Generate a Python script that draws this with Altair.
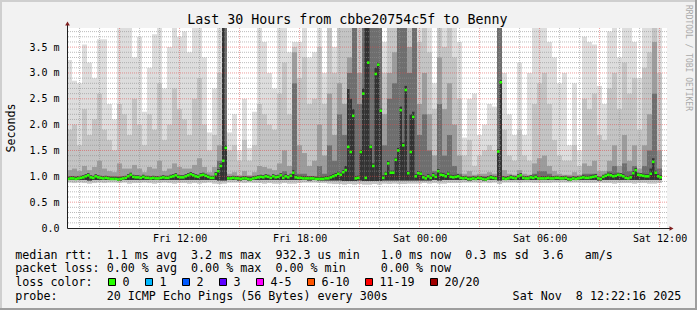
import altair as alt
import pandas as pd

# ---------------- data (15-minute bins) ----------------
# outermost smoke band top (max ping), in ms
smoke_max = [
    3.25, 2.85, 2.80, 3.55, 3.20, 2.90, 3.65, 3.65, 2.40, 2.10,
    3.87, 3.87, 3.87, 3.30, 3.70, 2.25, 3.10, 3.75, 3.87, 2.70,
    3.50, 3.87, 3.70, 3.80, 3.40, 3.87, 3.87, 3.30, 1.85, 2.70,
    3.87, 3.87, 1.85, 2.20, 1.50, 2.50, 1.55, 2.25, 3.87, 3.60,
    3.00, 2.70, 3.87, 3.87, 3.40, 3.60, 3.60, 3.87, 3.30, 3.40,
    3.87, 3.00, 3.87, 3.50, 3.87, 3.87, 3.87, 3.87, 3.87, 3.87,
    3.87, 3.87, 3.87, 3.60, 3.87, 3.87, 3.87, 3.87, 3.87, 3.87,
    3.87, 3.87, 3.87, 2.80, 3.87, 3.87, 3.87, 3.87, 3.60, 1.75,
    2.50, 2.60, 1.80, 2.00, 2.40, 2.35, 3.87, 3.00, 2.20, 1.80,
    3.20, 1.80, 3.00, 3.87, 3.87, 3.87, 3.60, 3.30, 2.80, 3.00,
    1.60, 2.80, 1.50, 3.70, 3.60, 3.55, 2.75, 2.40, 3.80, 3.87,
    3.30, 3.87, 3.87, 3.60, 2.90, 3.87, 3.87, 3.87, 3.87,
]
# second band top
smoke_p80 = [
    1.90, 2.00, 1.60, 2.30, 1.80, 2.10, 2.60, 1.90, 1.70, 1.50,
    2.40, 2.20, 1.80, 2.50, 2.00, 1.60, 2.20, 1.90, 2.80, 1.70,
    2.00, 2.70, 2.30, 2.10, 1.80, 2.50, 2.90, 2.00, 1.50, 1.80,
    3.00, 3.87, 1.50, 1.60, 1.30, 1.70, 1.30, 1.60, 2.40, 2.20,
    2.00, 1.90, 2.60, 3.20, 2.20, 3.50, 2.90, 3.30, 2.40, 2.50,
    3.50, 2.40, 3.87, 3.00, 3.87, 3.87, 3.87, 3.87, 3.87, 3.87,
    3.87, 3.87, 3.87, 3.00, 3.87, 3.87, 3.87, 3.87, 3.87, 3.87,
    3.60, 3.87, 3.40, 2.30, 3.87, 3.50, 3.87, 3.30, 2.50, 1.40,
    1.70, 1.20, 1.40, 1.50, 1.60, 1.50, 3.87, 1.90, 1.40, 1.30,
    1.90, 1.40, 1.30, 2.40, 2.80, 3.00, 2.40, 1.70, 1.40, 1.30,
    1.30, 1.60, 1.20, 2.50, 2.30, 2.60, 1.80, 1.70, 2.70, 3.00,
    2.30, 3.20, 2.60, 2.90, 1.90, 3.10, 3.40, 3.87, 3.00,
]
# third band top
smoke_p60 = [
    1.12, 1.15, 1.10, 1.20, 1.12, 1.18, 1.30, 1.15, 1.10, 1.08,
    1.25, 1.15, 1.15, 1.22, 1.15, 1.08, 1.18, 1.15, 1.30, 1.10,
    1.15, 1.25, 1.18, 1.15, 1.15, 1.22, 1.35, 1.18, 1.08, 1.18,
    1.60, 3.87, 1.05, 1.08, 1.02, 1.10, 1.02, 1.08, 1.20, 1.18,
    1.15, 1.12, 1.25, 1.50, 1.20, 3.40, 1.60, 1.45, 1.20, 1.30,
    2.00, 1.40, 2.60, 1.80, 2.80, 2.40, 3.30, 3.87, 3.00, 3.87,
    3.87, 3.87, 3.87, 2.20, 3.00, 3.40, 3.87, 3.87, 3.50, 3.87,
    2.40, 3.00, 2.20, 1.40, 3.30, 2.30, 2.80, 2.00, 1.40, 1.05,
    1.10, 1.03, 1.05, 1.05, 1.08, 1.05, 3.87, 1.12, 1.05, 1.03,
    1.12, 1.05, 1.03, 1.25, 1.35, 1.40, 1.20, 1.10, 1.05, 1.03,
    1.03, 1.08, 1.03, 1.25, 1.20, 1.30, 1.10, 1.10, 1.30, 1.60,
    1.20, 1.80, 1.30, 1.60, 1.15, 1.60, 2.20, 3.60, 1.50,
]
# fourth band top (dark grey, only rises in the congested hours)
smoke_p70 = [
    1.00, 1.00, 1.00, 1.00, 1.00, 1.00, 1.00, 1.00, 1.00, 1.00,
    1.00, 1.00, 1.00, 1.00, 1.00, 1.00, 1.00, 1.00, 1.00, 1.00,
    1.00, 1.00, 1.00, 1.00, 1.00, 1.00, 1.00, 1.00, 1.00, 1.00,
    1.30, 3.87, 1.00, 1.00, 1.00, 1.00, 1.00, 1.00, 1.00, 1.00,
    1.00, 1.00, 1.00, 1.10, 1.00, 2.80, 1.05, 1.05, 1.00, 1.00,
    1.20, 1.05, 1.60, 1.30, 2.20, 1.80, 3.00, 3.87, 2.40, 3.87,
    3.87, 3.87, 3.87, 1.60, 2.50, 2.80, 3.87, 3.87, 3.00, 3.87,
    1.80, 2.20, 1.50, 1.10, 2.40, 1.40, 1.80, 1.20, 1.05, 1.00,
    1.00, 1.00, 1.00, 1.00, 1.00, 1.00, 3.87, 1.00, 1.00, 1.00,
    1.00, 1.00, 1.00, 1.05, 1.10, 1.10, 1.05, 1.00, 1.00, 1.00,
    1.00, 1.00, 1.00, 1.05, 1.05, 1.05, 1.00, 1.00, 1.10, 1.20,
    1.05, 1.25, 1.10, 1.20, 1.05, 1.20, 1.50, 2.60, 1.15,
]
# innermost (darkest) band top, first and second half of each bin
smoke_dark_a = [
    0.99, 1.00, 1.00, 1.02, 1.06, 1.01, 1.02, 1.00, 1.00, 0.99,
    0.98, 1.00, 1.04, 1.03, 1.02, 1.03, 1.01, 1.01, 1.00, 1.02,
    1.01, 1.04, 1.03, 1.02, 1.06, 1.06, 1.03, 1.07, 1.03, 1.01,
    1.14, 3.87, 1.00, 1.01, 1.00, 1.00, 0.99, 1.00, 1.02, 1.02,
    1.03, 1.04, 1.03, 1.01, 1.02, 1.12, 1.01, 1.00, 1.00, 1.00,
    0.99, 0.99, 1.00, 1.04, 1.09, 1.12, 2.69, 2.30, 1.01, 2.70,
    3.87, 1.25, 3.20, 1.02, 1.30, 1.11, 1.55, 1.65, 1.10, 2.25,
    1.10, 1.02, 1.04, 1.06, 1.14, 1.06, 1.09, 1.02, 1.04, 1.00,
    0.99, 1.00, 1.01, 0.99, 1.00, 1.01, 1.52, 1.00, 1.00, 1.01,
    1.04, 1.01, 1.00, 1.01, 1.00, 1.00, 1.01, 1.00, 1.01, 1.00,
    0.99, 1.00, 1.00, 1.02, 1.01, 1.03, 1.00, 1.03, 1.07, 1.04,
    1.07, 1.04, 1.00, 1.10, 1.07, 1.05, 1.04, 1.35, 1.04,
]
smoke_dark_b = [
    1.00, 0.99, 1.01, 1.04, 1.02, 1.04, 1.01, 1.01, 0.99, 0.99,
    0.99, 1.01, 1.07, 1.02, 1.01, 1.01, 1.00, 1.00, 1.01, 1.01,
    1.03, 1.06, 1.02, 1.04, 1.08, 1.04, 1.06, 1.05, 1.01, 1.08,
    1.25, 1.60, 1.00, 1.00, 0.99, 1.00, 0.98, 1.01, 1.03, 1.04,
    1.01, 1.02, 1.06, 1.04, 1.05, 1.02, 1.01, 1.00, 1.00, 0.99,
    0.99, 1.00, 1.02, 1.06, 1.07, 1.20, 2.50, 1.00, 1.51, 3.87,
    1.61, 3.10, 2.31, 1.09, 1.11, 1.36, 2.35, 2.75, 2.20, 1.04,
    1.09, 1.00, 1.01, 1.03, 1.07, 1.04, 1.03, 1.03, 1.01, 1.01,
    0.99, 0.99, 1.00, 0.98, 1.02, 1.00, 2.86, 0.99, 1.02, 1.00,
    1.06, 1.00, 1.02, 1.03, 1.00, 1.00, 1.00, 1.01, 1.00, 1.01,
    0.98, 0.99, 1.01, 1.01, 1.02, 1.04, 0.99, 1.05, 1.06, 1.05,
    1.06, 1.01, 1.02, 1.16, 1.06, 1.04, 1.15, 1.11, 1.02,
]
# lowest ping (bottom of the light smoke)
smoke_min = [
    0.88, 0.87, 0.88, 0.87, 0.86, 0.87, 0.88, 0.87, 0.88, 0.88,
    0.87, 0.88, 0.86, 0.87, 0.87, 0.88, 0.87, 0.86, 0.87, 0.88,
    0.87, 0.86, 0.87, 0.87, 0.86, 0.87, 0.86, 0.87, 0.88, 0.86,
    0.85, 0.86, 0.88, 0.88, 0.88, 0.87, 0.88, 0.87, 0.87, 0.86,
    0.87, 0.86, 0.86, 0.87, 0.86, 0.86, 0.87, 0.88, 0.88, 0.88,
    0.87, 0.87, 0.86, 0.85, 0.85, 0.84, 0.85, 0.84, 0.85, 0.84,
    0.84, 0.85, 0.84, 0.86, 0.85, 0.86, 0.85, 0.85, 0.86, 0.86,
    0.86, 0.87, 0.86, 0.87, 0.86, 0.86, 0.87, 0.87, 0.87, 0.88,
    0.88, 0.88, 0.87, 0.88, 0.87, 0.88, 0.85, 0.88, 0.88, 0.88,
    0.87, 0.88, 0.88, 0.87, 0.87, 0.87, 0.87, 0.88, 0.88, 0.88,
    0.88, 0.88, 0.88, 0.87, 0.87, 0.87, 0.88, 0.87, 0.87, 0.86,
    0.87, 0.87, 0.87, 0.86, 0.87, 0.87, 0.86, 0.86, 0.87,
]
# bottom of the inner smoke bands
smoke_low = [
    0.93, 0.93, 0.93, 0.93, 0.92, 0.93, 0.93, 0.93, 0.93, 0.93,
    0.92, 0.93, 0.93, 0.93, 0.93, 0.93, 0.93, 0.93, 0.93, 0.93,
    0.93, 0.93, 0.93, 0.93, 0.93, 0.93, 0.93, 0.93, 0.93, 0.93,
    0.92, 0.92, 0.93, 0.93, 0.92, 0.93, 0.92, 0.93, 0.93, 0.93,
    0.93, 0.93, 0.93, 0.93, 0.93, 0.93, 0.93, 0.93, 0.92, 0.93,
    0.92, 0.92, 0.92, 0.92, 0.92, 0.91, 0.91, 0.91, 0.92, 0.91,
    0.91, 0.91, 0.91, 0.92, 0.92, 0.92, 0.92, 0.92, 0.92, 0.92,
    0.92, 0.92, 0.92, 0.93, 0.92, 0.93, 0.93, 0.93, 0.93, 0.93,
    0.92, 0.93, 0.93, 0.92, 0.93, 0.93, 0.92, 0.93, 0.93, 0.93,
    0.93, 0.93, 0.93, 0.93, 0.93, 0.93, 0.93, 0.93, 0.93, 0.93,
    0.92, 0.93, 0.93, 0.93, 0.93, 0.93, 0.92, 0.93, 0.93, 0.93,
    0.93, 0.93, 0.93, 0.93, 0.93, 0.93, 0.93, 0.93, 0.93,
]
# median rtt, first and second half of each bin
median_a = [
    0.95, 0.96, 0.96, 0.98, 1.02, 0.97, 0.98, 0.96, 0.96, 0.95,
    0.94, 0.96, 1.00, 0.99, 0.98, 0.99, 0.97, 0.97, 0.96, 0.98,
    0.97, 1.00, 0.99, 0.98, 1.02, 1.02, 0.99, 1.03, 0.99, 0.97,
    1.10, 1.30, 0.96, 0.97, 0.96, 0.96, 0.95, 0.96, 0.98, 0.98,
    0.99, 1.00, 0.99, 0.97, 0.98, 1.07, 0.97, 0.96, 0.96, 0.96,
    0.95, 0.95, 0.96, 1.00, 1.05, 1.08, 1.57, 2.17, 0.97, 2.60,
    3.20, 1.20, 3.16, 0.97, 1.25, 1.07, 1.50, 1.60, 1.06, 2.15,
    1.06, 0.98, 1.00, 1.02, 1.10, 1.02, 1.05, 0.98, 1.00, 0.96,
    0.95, 0.96, 0.97, 0.95, 0.96, 0.97, 1.48, 0.96, 0.96, 0.97,
    1.00, 0.97, 0.96, 0.97, 0.96, 0.96, 0.97, 0.96, 0.97, 0.96,
    0.95, 0.96, 0.96, 0.98, 0.97, 0.99, 0.96, 0.99, 1.03, 1.00,
    1.03, 1.00, 0.96, 1.06, 1.03, 1.01, 1.00, 1.28, 1.00,
]
median_b = [
    0.96, 0.95, 0.97, 1.00, 0.98, 1.00, 0.97, 0.97, 0.95, 0.95,
    0.95, 0.97, 1.03, 0.98, 0.97, 0.97, 0.96, 0.96, 0.97, 0.97,
    0.99, 1.02, 0.98, 1.00, 1.04, 1.00, 1.02, 1.01, 0.97, 1.04,
    1.20, 1.55, 0.96, 0.96, 0.95, 0.96, 0.94, 0.97, 0.99, 1.00,
    0.97, 0.98, 1.02, 1.00, 1.01, 0.98, 0.97, 0.96, 0.96, 0.95,
    0.95, 0.96, 0.98, 1.02, 1.03, 1.12, 1.47, 0.96, 1.47, 0.97,
    1.57, 2.98, 2.27, 1.05, 1.07, 1.32, 2.28, 2.67, 1.47, 1.00,
    1.05, 0.96, 0.97, 0.99, 1.03, 1.00, 0.99, 0.99, 0.97, 0.97,
    0.95, 0.95, 0.96, 0.94, 0.98, 0.96, 2.82, 0.95, 0.98, 0.96,
    1.02, 0.96, 0.98, 0.99, 0.96, 0.96, 0.96, 0.97, 0.96, 0.97,
    0.94, 0.95, 0.97, 0.97, 0.98, 1.00, 0.95, 1.01, 1.02, 1.01,
    1.02, 0.97, 0.98, 1.12, 1.02, 1.00, 1.05, 1.07, 0.98,
]

y_ticks = [0.0, 0.5, 1.0, 1.5, 2.0, 2.5, 3.0, 3.5]
x_tick_times = ["2025-11-07T12:00:00Z", "2025-11-07T18:00:00Z", "2025-11-08T00:00:00Z",
                "2025-11-08T06:00:00Z", "2025-11-08T12:00:00Z"]

title_text = "Last 30 Hours from cbbe20754c5f to Benny"
legend_rtt = [(0, "median rtt:"), (13, "1.1 ms avg"), (25, "3.2 ms max"), (37, "932.3 us min"),
              (52, "1.0 ms now"), (64, "0.3 ms sd"), (75, "3.6"), (81, "am/s")]
legend_loss = [(0, "packet loss:"), (13, "0.00 % avg"), (25, "0.00 % max"),
               (37, "0.00 % min"), (52, "0.00 % now")]
loss_labels = ["0", "1", "2", "3", "4-5", "6-10", "11-19", "20/20"]
loss_colors = ["#26ff00", "#00b8ff", "#0059ff", "#5e00ff", "#ff00ff", "#ff5500", "#ff0000", "#a10000"]
probe_text = "20 ICMP Echo Pings (56 Bytes) every 300s"
date_text = "Sat Nov \u00a08 12:22:16 2025"

# ---------------- tables ----------------
n = len(smoke_max)
for arr in (smoke_p80, smoke_p60, smoke_p70, smoke_dark_a, smoke_dark_b, smoke_min, smoke_low,
            median_a, median_b):
    assert len(arr) == n

ms = lambda s: int(pd.Timestamp(s).value // 10**6)
START = ms("2025-11-07T06:22:16Z")
STEP = 15 * 60 * 1000
HALF = STEP // 2
SPAN = 30 * 3600 * 1000
HOUR = 3600 * 1000

df = pd.DataFrame({
    "t0": [START + i * STEP for i in range(n)],
    "t1": [START + (i + 1) * STEP for i in range(n)],
    "mx": smoke_max, "p80": smoke_p80, "p60": smoke_p60, "p70": smoke_p70,
    "mn": smoke_min, "lo": smoke_low,
})
half = pd.DataFrame({
    "t0": [START + i * STEP for i in range(n)] + [START + i * STEP + HALF for i in range(n)],
    "t1": [START + i * STEP + HALF for i in range(n)] + [START + (i + 1) * STEP for i in range(n)],
    "lo": smoke_low + smoke_low,
    "dk": smoke_dark_a + smoke_dark_b,
})
med = pd.DataFrame({
    "t": [START + i * STEP + STEP // 4 for i in range(n)] + [START + i * STEP + 3 * STEP // 4 for i in range(n)],
    "v": median_a + median_b,
})

first_hour = ms("2025-11-07T07:00:00Z")
hours = [(first_hour + k * HOUR, (7 + k) % 24) for k in range(30)]
vgrid_minor = pd.DataFrame({"t": [h for h, hh in hours if hh % 3 != 0]})
vgrid_major = pd.DataFrame({"t": [h for h, hh in hours if hh % 3 == 0]})
hgrid_minor = pd.DataFrame({"v": [round(0.1 * k, 1) for k in range(1, 39) if k % 5 != 0]})
hgrid_major = pd.DataFrame({"v": [0.5 * k for k in range(1, 8)]})

# ---------------- style ----------------
MONO = "DejaVu Sans Mono"
W, H = 600, 200
LEFT, TOP = 67, 28

xs = alt.Scale(type="utc", domain=[START, START + SPAN])
ys = alt.Scale(domain=[0, 3.87], nice=False, zero=True)
xaxis = alt.Axis(values=[ms(s) for s in x_tick_times],
                 labelExpr="utcFormat(datum.value, '%a %H:%M')",
                 grid=False, ticks=False, domain=False, title=None,
                 labelFont=MONO, labelFontSize=10, labelColor="#000000",
                 labelBaseline="alphabetic", labelPadding=13, labelFlush=False, labelOverlap=False)
yaxis = alt.Axis(values=y_ticks,
                 labelExpr="datum.value == 0 ? '0.0' : format(datum.value, '.1f') + ' m'",
                 grid=False, ticks=False, domain=False, title=None,
                 labelFont=MONO, labelFontSize=10, labelColor="#000000",
                 labelPadding=8, labelOverlap=False)

def X(f):
    return alt.X(f, scale=xs, axis=xaxis)

def Y(f):
    return alt.Y(f, scale=ys, axis=yaxis)

def band(data, color, lo, hi):
    return alt.Chart(data).mark_rect(color=color, strokeWidth=0).encode(
        x=X("t0:T"), x2="t1:T", y=Y(f"{lo}:Q"), y2=f"{hi}:Q")

layers = [
    band(df, "#dddddd", "mn", "mx"),
    band(df, "#c4c4c4", "mn", "p80"),
    band(df, "#9c9c9c", "lo", "p60"),
    band(df, "#6e6e6e", "lo", "p70"),
    band(half, "#333333", "lo", "dk"),
]

def vgrid(data, color, op):
    return alt.Chart(data).mark_rule(color=color, opacity=op, strokeWidth=1, strokeDash=[1, 1]).encode(x=X("t:T"))

def hgrid(data, color, op):
    return alt.Chart(data).mark_rule(color=color, opacity=op, strokeWidth=1, strokeDash=[1, 1]).encode(y=Y("v:Q"))

layers += [
    vgrid(vgrid_minor, "#8f8f8f", 0.6),
    hgrid(hgrid_minor, "#8f8f8f", 0.6),
    vgrid(vgrid_major, "#de4f4f", 0.55),
    hgrid(hgrid_major, "#de4f4f", 0.55),
]

layers.append(alt.Chart(med).mark_square(size=6.5, color="#26ff00", opacity=1, strokeWidth=0).encode(
    x=X("t:T"), y=Y("v:Q")))

one = pd.DataFrame({"k": [0]})

def px(x):
    return x - LEFT

def py(y):
    return y - TOP

def rule(x1, y1, x2, y2, color, w=1):
    return alt.Chart(one).mark_rule(color=color, strokeWidth=w).encode(
        x=alt.value(px(x1)), y=alt.value(py(y1)), x2=alt.value(px(x2)), y2=alt.value(py(y2)))

def box(x1, y1, x2, y2, fill, stroke=None):
    kw = dict(color=fill)
    if stroke:
        kw.update(stroke=stroke, strokeWidth=1)
    return alt.Chart(one).mark_rect(**kw).encode(
        x=alt.value(px(x1)), x2=alt.value(px(x2)), y=alt.value(py(y1)), y2=alt.value(py(y2)))

def text(s, x, y, size=11.68, align="left", baseline="alphabetic", angle=0, color="#000000"):
    return alt.Chart(one).mark_text(text=s, font=MONO, fontSize=size, align=align, baseline=baseline,
                                    angle=angle, color=color).encode(x=alt.value(px(x)), y=alt.value(py(y)))

# axes with arrows
layers += [
    rule(67.5, 228.5, 670, 228.5, "#1f1f1f"),
    rule(67.5, 24, 67.5, 228.5, "#1f1f1f"),
    alt.Chart(one).mark_point(shape="triangle-up", filled=True, size=22, color="#801f1f", opacity=1).encode(
        x=alt.value(px(67.5)), y=alt.value(py(23.5))),
    alt.Chart(one).mark_point(shape="triangle-right", filled=True, size=22, color="#801f1f", opacity=1).encode(
        x=alt.value(px(671.5)), y=alt.value(py(228.5))),
]

# frame shading
layers += [
    box(0, 0, 697, 2, "#cfcfcf"),
    box(0, 0, 2, 310, "#cfcfcf"),
    box(0, 308, 697, 310, "#9e9e9e"),
    box(695, 0, 697, 310, "#9e9e9e"),
]

# texts
CW = 7.03
X0 = 15.3
layers.append(text(title_text, 347.3, 24, size=13.3, align="center"))
layers.append(text("Seconds", 15, 128, angle=270, align="center"))
layers.append(text("RRDTOOL / TOBI OETIKER", 685.5, 5, size=8, angle=90, color="#a9a9a9"))
for col, s in legend_rtt:
    layers.append(text(s, X0 + CW * col, 258.5))
for col, s in legend_loss:
    layers.append(text(s, X0 + CW * col, 272))
layers.append(text("loss color:", X0, 286))
box_x = [108.5, 145.5, 182.5, 219.5, 256.5, 307.5, 365.5, 430.5]
for bx, lab, c in zip(box_x, loss_labels, loss_colors):
    layers.append(box(bx, 278.5, bx + 7, 285.5, c, stroke="#000000"))
    layers.append(text(lab, bx + 14, 286))
layers.append(text("probe:", X0, 300))
layers.append(text(probe_text, X0 + CW * 13, 300))
layers.append(text(date_text, 512.6, 300))

chart = alt.layer(*layers).properties(
    width=W, height=H,
    padding={"left": LEFT, "top": TOP, "right": 697 - LEFT - W, "bottom": 310 - TOP - H},
    autosize=alt.AutoSizeParams(type="none"),
).configure(background="#f2f2f2").configure_view(fill="#ffffff", stroke=None)

chart.save("out.html", embed_options={"renderer": "svg", "actions": False})
